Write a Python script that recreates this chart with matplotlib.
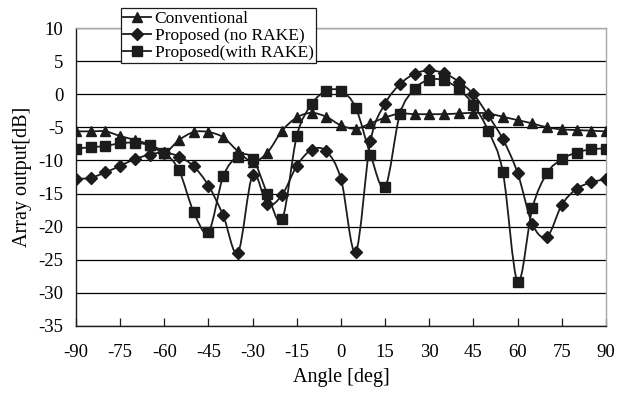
"""Array output vs. angle for the three beamforming schemes"""

import numpy as np
from matplotlib import pyplot as plt
from matplotlib.lines import Line2D
from matplotlib.path import Path
from matplotlib.patches import PathPatch

plt.rcParams["font.family"] = ["Liberation Serif", "DejaVu Serif"]
plt.rcParams["axes.unicode_minus"] = False

angles = list(range(-90, 91, 5))

conventional = [
    -5.6, -5.6, -5.6, -6.3, -6.9, -7.6, -8.8, -6.9, -5.7, -5.7, -6.5, -8.6, -10.2,
    -8.8, -5.5, -3.5, -2.8, -3.4, -4.7, -5.2, -4.4, -3.5, -2.9, -3.0, -3.0, -3.0,
    -2.9, -2.8, -2.9, -3.4, -3.9, -4.4, -5.0, -5.3, -5.4, -5.5, -5.6,
]
proposed_no_rake = [
    -12.8, -12.6, -11.8, -10.8, -9.8, -9.1, -8.8, -9.4, -10.9, -13.8, -18.3, -23.9,
    -12.2, -16.6, -15.2, -10.8, -8.4, -8.6, -12.8, -23.8, -7.1, -1.4, 1.5, 3.1, 3.6,
    3.2, 1.9, 0.0, -3.2, -6.8, -11.9, -19.6, -21.5, -16.7, -14.3, -13.3, -12.8,
]
proposed_rake = [
    -8.2, -8.0, -7.8, -7.4, -7.3, -7.7, -8.8, -11.5, -17.8, -20.8, -12.4, -9.4, -9.7,
    -15.0, -18.9, -6.3, -1.5, 0.5, 0.5, -2.0, -9.1, -14.0, -3.0, 0.8, 2.2, 2.1, 0.8,
    -1.6, -5.5, -11.8, -28.3, -17.2, -11.9, -9.8, -8.8, -8.3, -8.2,
]

INK = "#1c1c1c"


def smooth_path(x, y):
    """Catmull-Rom style Bezier path through the points (like Excel smoothing)"""
    pts = np.column_stack([x, y]).astype(float)
    ext = np.vstack([pts[0], pts, pts[-1]])
    verts = [pts[0]]
    codes = [Path.MOVETO]
    for i in range(len(pts) - 1):
        p0, p1, p2, p3 = ext[i], ext[i + 1], ext[i + 2], ext[i + 3]
        verts += [p1 + (p2 - p0) / 6, p2 - (p3 - p1) / 6, p2]
        codes += [Path.CURVE4] * 3
    return Path(verts, codes)


def main():
    fig = plt.figure(figsize=(6.26, 3.93), dpi=100)
    ax = fig.add_axes([0.1214, 0.1705, 0.8466, 0.758])

    series = [
        (conventional, "^", 7.5, "Conventional"),
        (proposed_no_rake, "D", 6.5, "Proposed (no RAKE)"),
        (proposed_rake, "s", 6.5, "Proposed(with RAKE)"),
    ]
    handles = []
    for values, marker, size, label in series:
        ax.add_patch(
            PathPatch(smooth_path(angles, values), facecolor="none",
                      edgecolor=INK, linewidth=1.3, zorder=3)
        )
        ax.plot(angles, values, linestyle="none", marker=marker, markersize=size,
                color=INK, zorder=4)
        handles.append(Line2D([], [], color=INK, linewidth=1.3, marker=marker,
                              markersize=size, label=label))

    ax.set_xlim(-90, 90)
    ax.set_ylim(-35, 10)
    ax.set_xticks(range(-90, 91, 15))
    ax.set_yticks(range(-35, 11, 5))
    ax.yaxis.grid(True, color="black", linewidth=0.9)
    ax.set_axisbelow(True)
    ax.tick_params(axis="x", direction="in", length=6, width=0.9, labelsize=13.5,
                   pad=13, color=INK)
    ax.tick_params(axis="y", length=0, labelsize=13.5, pad=9)
    for side in ("left", "bottom"):
        ax.spines[side].set_color(INK)
        ax.spines[side].set_linewidth(1.0)
    for side in ("top", "right"):
        ax.spines[side].set_color("#a8a8a8")
        ax.spines[side].set_linewidth(1.0)

    ax.set_xlabel("Angle [deg]", fontsize=14.5, labelpad=5)
    ax.set_ylabel("Array output[dB]", fontsize=14.5, labelpad=5)

    leg = ax.legend(
        handles=handles, loc="upper left", bbox_to_anchor=(0.193, 0.98),
        bbox_transform=fig.transFigure, borderaxespad=0, fontsize=12.5,
        handlelength=1.6, handletextpad=0.2, labelspacing=0.05,
        borderpad=0.15, fancybox=False, framealpha=1, edgecolor=INK,
    )
    leg.get_frame().set_linewidth(0.9)
    leg.set_zorder(10)

    fig.savefig("out.png", dpi=100)


if __name__ == "__main__":
    main()
